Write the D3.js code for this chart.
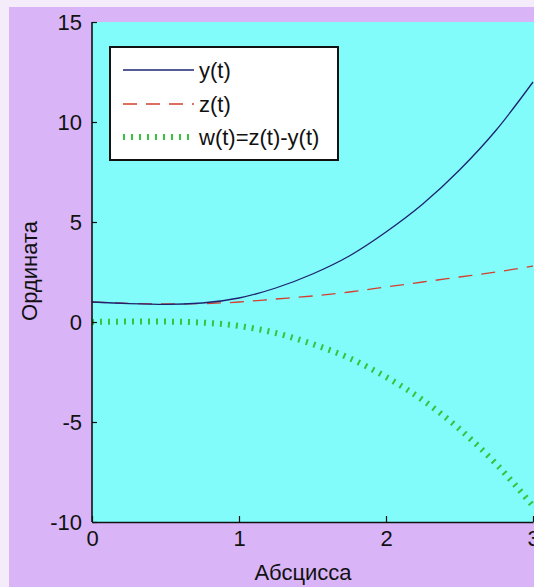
<!DOCTYPE html>
<html><head><meta charset="utf-8">
<script src="https://cdn.jsdelivr.net/npm/d3@7"></script>
<style>
html,body{margin:0;padding:0;background:#fff;}
svg{display:block;}
text{font-family:"Liberation Sans",Arial,sans-serif;}
</style></head>
<body>
<svg id="c" width="534" height="587"></svg>
<script>
const tValues = [0, 0.25, 0.5, 0.75, 1, 1.25, 1.5, 1.75, 2, 2.25, 2.5, 2.75, 3];
const ySeries = [1.0, 0.92, 0.88, 0.95, 1.2, 1.7, 2.4, 3.3, 4.5, 5.9, 7.6, 9.6, 12.0];
const zSeries = [1.0, 0.93, 0.9, 0.92, 1.0, 1.15, 1.3, 1.5, 1.75, 2.0, 2.25, 2.5, 2.8];
const wSeries = [0.0, 0.02, 0.02, -0.03, -0.2, -0.55, -1.1, -1.8, -2.75, -3.9, -5.35, -7.1, -9.2];
const xTicks = [0, 1, 2, 3];
const yTicks = [-10, -5, 0, 5, 10, 15];
const legendLabels = ["y(t)", "z(t)", "w(t)=z(t)-y(t)"];
const xLabel = "Абсцисса";
const yLabel = "Ордината";

const svg = d3.select("#c");
const W = 534, H = 587;
const L = 92, R = 533, T = 22, B = 522;

// backgrounds
svg.append("rect").attr("x", 0).attr("y", 0).attr("width", W).attr("height", H).attr("fill", "#f4ecfb");
svg.append("rect").attr("x", 9).attr("y", 7).attr("width", W - 9).attr("height", H - 7).attr("fill", "#d9b5f7");
svg.append("rect").attr("x", L).attr("y", T).attr("width", W - L).attr("height", B - T).attr("fill", "#82fbfb");

const x = d3.scaleLinear().domain([0, 3]).range([L, R]);
const y = d3.scaleLinear().domain([-10, 15]).range([B, T]);

svg.append("defs").append("clipPath").attr("id", "clip")
  .append("rect").attr("x", L).attr("y", T).attr("width", W - L).attr("height", B - T);

const series = [
  {vals: ySeries, color: "#1c2470", width: 1.3, dash: null},
  {vals: zSeries, color: "#d2402e", width: 1.3, dash: "14 9"},
  {vals: wSeries, color: "#34c43e", width: 6, dash: "2 6"}
];

const line = d3.line().x(d => x(d[0])).y(d => y(d[1])).curve(d3.curveMonotoneX);
const g = svg.append("g").attr("clip-path", "url(#clip)");
series.slice().reverse().forEach(s => {
  g.append("path")
    .attr("d", line(tValues.map((t, i) => [t, s.vals[i]])))
    .attr("fill", "none")
    .attr("stroke", s.color)
    .attr("stroke-width", s.width)
    .attr("stroke-dasharray", s.dash);
});

// axes
const fs = 22;
const fmt = d => String(d);
const xAxis = svg.append("g").attr("transform", `translate(0,${B})`)
  .call(d3.axisBottom(x).tickValues(xTicks).tickFormat(fmt).tickSize(-6).tickSizeOuter(0).tickPadding(8));
const yAxis = svg.append("g").attr("transform", `translate(${L},0)`)
  .call(d3.axisLeft(y).tickValues(yTicks).tickFormat(fmt).tickSize(-5).tickSizeOuter(0).tickPadding(10));
[xAxis, yAxis].forEach(a => {
  a.select(".domain").attr("stroke", "#111").attr("stroke-width", 1.6);
  a.selectAll(".tick line").attr("stroke", "#111").attr("stroke-width", 1.2);
  a.selectAll(".tick text").attr("fill", "#111").style("font-size", fs + "px")
    .style("font-family", '"Liberation Sans",Arial,sans-serif');
});
yAxis.select(".domain").attr("d", `M0,${B}V${T}`);
yAxis.selectAll(".tick text").attr("dy", "0.35em");

svg.append("text").attr("x", 303).attr("y", 580).attr("text-anchor", "middle")
  .attr("fill", "#111").style("font-size", fs + "px").text(xLabel);
svg.append("text").attr("transform", "translate(37,271) rotate(-90)").attr("text-anchor", "middle")
  .attr("fill", "#111").style("font-size", fs + "px").text(yLabel);

// legend
const lg = svg.append("g");
lg.append("rect").attr("x", 110).attr("y", 47).attr("width", 228).attr("height", 113)
  .attr("fill", "#fff").attr("stroke", "#111").attr("stroke-width", 2);
const rowsY = [70, 104, 137];
series.forEach((s, i) => {
  lg.append("line").attr("x1", 123).attr("x2", 194).attr("y1", rowsY[i]).attr("y2", rowsY[i])
    .attr("stroke", s.color).attr("stroke-width", s.width).attr("stroke-dasharray", s.dash);
  lg.append("text").attr("x", 199).attr("y", rowsY[i]).attr("dy", "0.35em")
    .attr("fill", "#111").style("font-size", fs + "px").text(legendLabels[i]);
});
</script>
</body></html>
